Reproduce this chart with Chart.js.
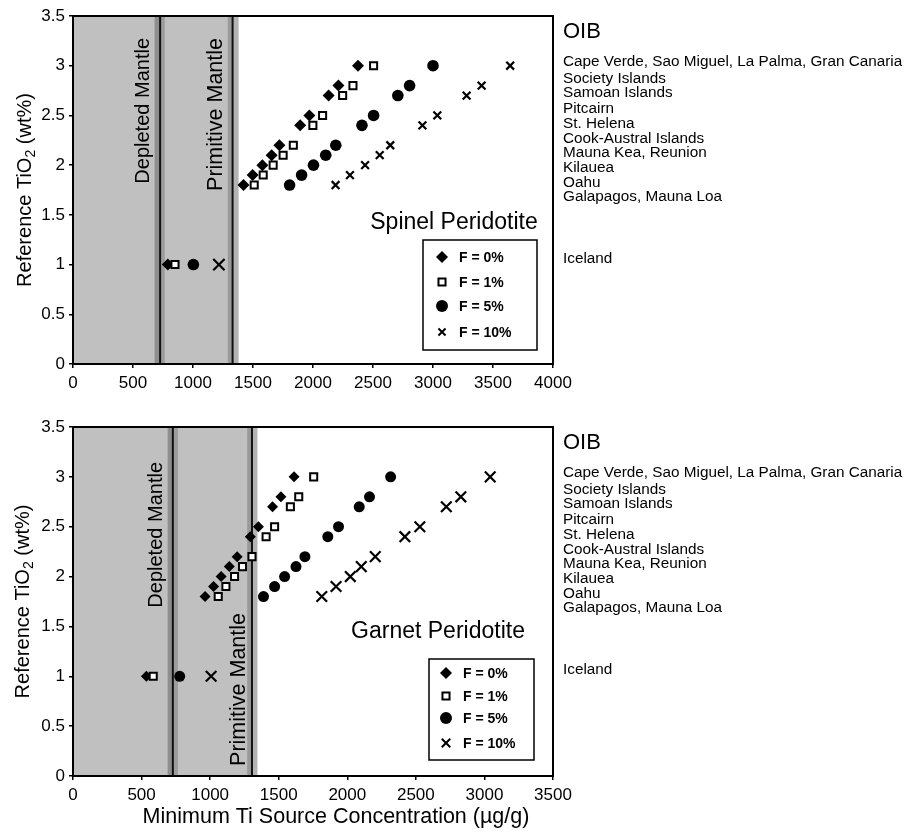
<!DOCTYPE html>
<html>
<head>
<meta charset="utf-8">
<script src="https://cdn.jsdelivr.net/npm/chart.js@4.4.1/dist/chart.umd.min.js"></script>
<style>
  html, body { margin: 0; padding: 0; background: #fff; }
  #wrap { position: relative; width: 905px; height: 836px; }
  canvas { position: absolute; left: 0; }
</style>
</head>
<body>
<div id="wrap">
  <canvas id="spinel" width="905" height="400" style="top:0"></canvas>
  <canvas id="garnet" width="905" height="436" style="top:400px"></canvas>
</div>
<script>
// Ocean island basalt localities, one per reference TiO2 level
const oibLocations = [
  'Cape Verde, Sao Miguel, La Palma, Gran Canaria',
  'Society Islands',
  'Samoan Islands',
  'Pitcairn',
  'St. Helena',
  'Cook-Austral Islands',
  'Mauna Kea, Reunion',
  'Kilauea',
  'Oahu',
  'Galapagos, Mauna Loa',
  'Iceland'
];
// Reference TiO2 (wt%) for each locality above
const refTiO2 = [3.0, 2.8, 2.7, 2.5, 2.4, 2.2, 2.1, 2.0, 1.9, 1.8, 1.0];
const meltLabels = ['F = 0%', 'F = 1%', 'F = 5%', 'F = 10%'];

const yTicks = [0, 0.5, 1, 1.5, 2, 2.5, 3, 3.5];
const spinelXTicks = [0, 500, 1000, 1500, 2000, 2500, 3000, 3500, 4000];
const garnetXTicks = [0, 500, 1000, 1500, 2000, 2500, 3000, 3500];

// Minimum Ti source concentration (ug/g), spinel peridotite melting
const spinelF0  = [2375, 2212, 2130, 1970, 1893, 1720, 1655, 1578, 1497, 1421, 790];
const spinelF1  = [2505, 2333, 2247, 2080, 1999, 1836, 1751, 1668, 1585, 1510, 850];
const spinelF5  = [3000, 2805, 2707, 2505, 2408, 2190, 2106, 2004, 1905, 1805, 1003];
const spinelF10 = [3643, 3405, 3280, 3036, 2912, 2644, 2556, 2434, 2308, 2188, 1216];

// Minimum Ti source concentration (ug/g), garnet peridotite melting
const garnetF0  = [1612, 1516, 1455, 1352, 1293, 1197, 1140, 1080, 1025, 963, 535];
const garnetF1  = [1755, 1646, 1585, 1470, 1408, 1305, 1236, 1178, 1115, 1059, 585];
const garnetF5  = [2316, 2162, 2087, 1936, 1858, 1691, 1626, 1543, 1470, 1389, 778];
const garnetF10 = [3042, 2828, 2722, 2529, 2420, 2204, 2102, 2022, 1918, 1814, 1007];

// Mantle Ti estimates: [low edge, value, high edge] in ug/g
const spinelDepleted  = [680, 726, 765];
const spinelPrimitive = [1290, 1330, 1380];
const garnetDepleted  = [690, 728, 765];
const garnetPrimitive = [1270, 1305, 1345];

const FONT = "'Liberation Sans', Arial, Helvetica, sans-serif";
Chart.defaults.font.family = FONT;
Chart.defaults.color = '#000';

function pairs(xs) {
  return xs.map((x, i) => ({ x: x, y: refTiO2[i] }));
}

function markerPoint(ctx, style, radius, bw, fill, x, y) {
  ctx.save();
  ctx.fillStyle = fill;
  ctx.strokeStyle = '#000';
  ctx.lineWidth = bw;
  if (Chart.helpers && Chart.helpers.drawPoint) {
    Chart.helpers.drawPoint(ctx, { pointStyle: style, radius: radius, rotation: 0, borderWidth: bw }, x, y);
  }
  ctx.restore();
}

function buildChart(id, opt) {
  const bandsPlugin = {
    id: 'mantleBands',
    beforeDatasetsDraw(chart) {
      const { ctx, chartArea: a, scales: { x } } = chart;
      const px = v => x.getPixelForValue(v);
      const dep = opt.depleted, pri = opt.primitive;
      ctx.save();
      ctx.beginPath();
      ctx.rect(a.left, a.top, a.right - a.left, a.bottom - a.top);
      ctx.clip();
      const band = (v0, v1, c) => { ctx.fillStyle = c; ctx.fillRect(px(v0), a.top, px(v1) - px(v0), a.bottom - a.top); };
      band(0, pri[1], '#c0c0c0');
      band(dep[0], dep[1], '#8e8e8e');
      band(dep[1], dep[2], '#9c9c9c');
      band(pri[0], pri[1], '#9a9a9a');
      band(pri[1], pri[2], '#b3b3b3');
      ctx.strokeStyle = '#111';
      ctx.lineWidth = 2;
      [dep[1], pri[1]].forEach(v => {
        ctx.beginPath();
        ctx.moveTo(px(v), a.top);
        ctx.lineTo(px(v), a.bottom);
        ctx.stroke();
      });
      // rotated region names
      ctx.fillStyle = '#000';
      ctx.textBaseline = 'middle';
      ctx.textAlign = 'right';
      opt.regionLabels.forEach(r => {
        ctx.save();
        ctx.font = r.size + 'px ' + FONT;
        ctx.translate(a.left + r.dx, a.top + r.dy);
        ctx.rotate(-Math.PI / 2);
        ctx.fillText(r.text, 0, 0);
        ctx.restore();
      });
      ctx.restore();
    },
    afterDraw(chart) {
      const { ctx, chartArea: a } = chart;
      ctx.save();
      // plot frame
      ctx.strokeStyle = '#000';
      ctx.lineWidth = 2;
      ctx.strokeRect(a.left, a.top, a.right - a.left, a.bottom - a.top);

      // rock type caption
      ctx.fillStyle = '#000';
      ctx.font = '23px ' + FONT;
      ctx.textAlign = 'center';
      ctx.textBaseline = 'middle';
      ctx.fillText(opt.caption, a.left + opt.captionDx, a.top + opt.captionDy);

      // legend box
      const L = opt.legend;
      const bx = a.right - L.right - L.w, by = a.bottom - L.bottom - L.h;
      ctx.lineWidth = 1.5;
      ctx.strokeRect(bx, by, L.w, L.h);
      ctx.font = 'bold 14px ' + FONT;
      ctx.textAlign = 'left';
      chart.data.datasets.forEach((ds, i) => {
        const ry = by + L.rows[i];
        markerPoint(ctx, ds.pointStyle, L.radius[i], ds.pointStyle === 'rect' ? 2 : (ds.pointStyle === 'crossRot' ? 2 : 0),
          ds.backgroundColor, bx + L.markerDx, ry);
        ctx.fillStyle = '#000';
        ctx.fillText(ds.label, bx + L.textDx, ry + 1);
      });

      // y axis title with subscript
      ctx.save();
      ctx.translate(opt.yTitleX, (a.top + a.bottom) / 2);
      ctx.rotate(-Math.PI / 2);
      const big = '20px ' + FONT, small = '14px ' + FONT;
      ctx.font = big; const w1 = ctx.measureText('Reference TiO').width;
      ctx.font = small; const w2 = ctx.measureText('2').width;
      ctx.font = big; const w3 = ctx.measureText(' (wt%)').width;
      let sx = -(w1 + w2 + w3) / 2;
      ctx.textAlign = 'left';
      ctx.textBaseline = 'alphabetic';
      ctx.font = big; ctx.fillText('Reference TiO', sx, 7); sx += w1;
      ctx.font = small; ctx.fillText('2', sx, 11); sx += w2;
      ctx.font = big; ctx.fillText(' (wt%)', sx, 7);
      ctx.restore();

      // x axis title
      if (opt.xTitle) {
        ctx.font = '21.5px ' + FONT;
        ctx.textAlign = 'center';
        ctx.textBaseline = 'middle';
        ctx.fillText(opt.xTitle, opt.xTitleX, a.bottom + opt.xTitleDy);
      }

      // OIB locality list
      ctx.textAlign = 'left';
      ctx.textBaseline = 'middle';
      ctx.font = '22px ' + FONT;
      ctx.fillText('OIB', 563, a.top + 16);
      ctx.font = '15.3px ' + FONT;
      const rowY = [46, 63, 77, 92.5, 107.5, 122.5, 136.5, 151.5, 166.5, 181, 242.5];
      oibLocations.forEach((name, i) => ctx.fillText(name, 563, a.top + rowY[i]));
      ctx.restore();
    }
  };

  return new Chart(document.getElementById(id), {
    type: 'scatter',
    data: {
      datasets: [
        { label: meltLabels[0], data: pairs(opt.series[0]), pointStyle: 'rectRot', pointRadius: opt.r[0],
          backgroundColor: '#000', borderColor: '#000', borderWidth: 0, order: 4 },
        { label: meltLabels[1], data: pairs(opt.series[1]), pointStyle: 'rect', pointRadius: opt.r[1],
          backgroundColor: '#fff', borderColor: '#000', borderWidth: 2, order: 3 },
        { label: meltLabels[2], data: pairs(opt.series[2]), pointStyle: 'circle', pointRadius: opt.r[2],
          backgroundColor: '#000', borderColor: '#000', borderWidth: 0, order: 2 },
        { label: meltLabels[3], data: pairs(opt.series[3]), pointStyle: 'crossRot', pointRadius: opt.r[3],
          backgroundColor: '#000', borderColor: '#000', borderWidth: opt.crossWidth, order: 1 }
      ]
    },
    options: {
      responsive: false,
      animation: false,
      events: [],
      layout: { padding: { left: 0, top: opt.padTop, right: 352, bottom: 0 } },
      plugins: { legend: { display: false }, tooltip: { enabled: false } },
      scales: {
        x: {
          type: 'linear', min: 0, max: opt.xTicks[opt.xTicks.length - 1],
          afterFit(s) { s.height = opt.xAxisH; },
          afterBuildTicks(s) { s.ticks = opt.xTicks.map(v => ({ value: v })); },
          ticks: { callback: v => String(v), font: { size: 17 }, color: '#000', padding: 5, maxRotation: 0, autoSkip: false },
          grid: { drawOnChartArea: false, tickLength: 4, color: '#000', lineWidth: 1.5 },
          border: { display: true, color: '#000', width: 2 }
        },
        y: {
          type: 'linear', min: 0, max: 3.5,
          afterFit(s) { s.width = 73; },
          afterBuildTicks(s) { s.ticks = yTicks.map(v => ({ value: v })); },
          ticks: { callback: v => String(v), font: { size: 17 }, color: '#000', padding: 4, autoSkip: false },
          grid: { drawOnChartArea: false, tickLength: 4, color: '#000', lineWidth: 1.5 },
          border: { display: true, color: '#000', width: 2 }
        }
      }
    },
    plugins: [bandsPlugin]
  });
}

buildChart('spinel', {
  series: [spinelF0, spinelF1, spinelF5, spinelF10],
  r: [6, 5, 5.8, [5.5, 5.5, 5.5, 5.5, 5.5, 5.5, 5.5, 5.5, 5.5, 5.5, 8]],
  crossWidth: 2.2,
  xTicks: spinelXTicks,
  depleted: spinelDepleted,
  primitive: spinelPrimitive,
  padTop: 16,
  xAxisH: 36,
  caption: 'Spinel Peridotite',
  captionDx: 381, captionDy: 207,
  regionLabels: [
    { text: 'Depleted Mantle', dx: 70, dy: 22, size: 20 },
    { text: 'Primitive Mantle', dx: 143, dy: 22, size: 21.5 }
  ],
  legend: { w: 114, h: 110, right: 16, bottom: 14, markerDx: 19, textDx: 36,
            rows: [17, 42, 66, 92], radius: [6, 5, 6, 5] },
  yTitleX: 24,
  xTitle: null
});

buildChart('garnet', {
  series: [garnetF0, garnetF1, garnetF5, garnetF10],
  r: [5.5, 5, 5.5, 7.5],
  crossWidth: 2.2,
  xTicks: garnetXTicks,
  depleted: garnetDepleted,
  primitive: garnetPrimitive,
  padTop: 27,
  xAxisH: 60,
  caption: 'Garnet Peridotite',
  captionDx: 365, captionDy: 205,
  regionLabels: [
    { text: 'Depleted Mantle', dx: 83, dy: 35, size: 20 },
    { text: 'Primitive Mantle', dx: 166, dy: 186, size: 21.5 }
  ],
  legend: { w: 105, h: 101, right: 19, bottom: 16, markerDx: 17, textDx: 34,
            rows: [14, 37, 59, 84], radius: [6, 5, 6, 6] },
  yTitleX: 22,
  xTitle: 'Minimum Ti Source Concentration (\u00b5g/g)',
  xTitleX: 336,
  xTitleDy: 41
});
</script>
</body>
</html>
